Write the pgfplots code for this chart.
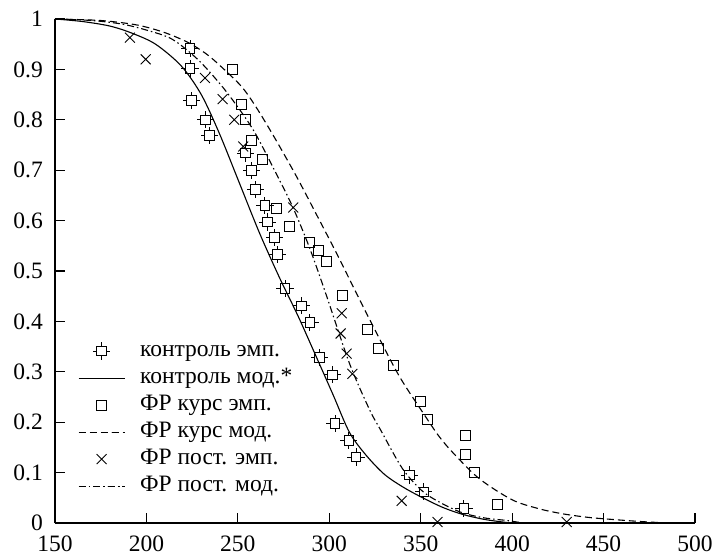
\documentclass[border=0pt]{standalone}
\usepackage{fontspec}
\setmainfont{Liberation Serif}
\usepackage{pgfplots}
\pgfplotsset{compat=1.18}
\pgfdeclareplotmark{sqcross}{%
  \pgfpathrectangle{\pgfqpoint{-\pgfplotmarksize}{-\pgfplotmarksize}}{\pgfqpoint{2\pgfplotmarksize}{2\pgfplotmarksize}}%
  \pgfpathmoveto{\pgfqpoint{0pt}{\pgfplotmarksize}}\pgfpathlineto{\pgfqpoint{0pt}{1.8\pgfplotmarksize}}%
  \pgfpathmoveto{\pgfqpoint{0pt}{-\pgfplotmarksize}}\pgfpathlineto{\pgfqpoint{0pt}{-1.8\pgfplotmarksize}}%
  \pgfpathmoveto{\pgfqpoint{\pgfplotmarksize}{0pt}}\pgfpathlineto{\pgfqpoint{1.8\pgfplotmarksize}{0pt}}%
  \pgfpathmoveto{\pgfqpoint{-\pgfplotmarksize}{0pt}}\pgfpathlineto{\pgfqpoint{-1.8\pgfplotmarksize}{0pt}}%
  \pgfusepathqstroke}
\begin{document}
\begin{tikzpicture}
\begin{axis}[
  name=ax,
  scale only axis, width=640pt, height=504pt,
  xmin=150, xmax=500, ymin=0, ymax=1,
  axis lines=left, axis line style={-, line width=1.6pt},
  xtick={150,200,...,500},
  ytick={0,0.1,0.2,0.3,0.4,0.5,0.6,0.7,0.8,0.9,1},
  yticklabels={0,0.1,0.2,0.3,0.4,0.5,0.6,0.7,0.8,0.9,1},
  tick align=inside, major tick length=10pt,
  tick style={line width=1.2pt, black},
  tick label style={font=\fontsize{23.5}{27}\selectfont, inner sep=0pt},
  yticklabel style={anchor=east, xshift=-12pt},
  xticklabel style={anchor=north, yshift=-13pt},
  /pgf/number format/assume math mode=true,
  legend style={draw=none, fill=none, at={(0.036,0.362)}, anchor=north west,
    inner sep=0pt, outer sep=0pt,
    font=\fontsize{23.5}{27}\selectfont, row sep=6pt, column sep=0pt,
    nodes={inner sep=0pt, text height=16pt, text depth=5pt},
    legend cell align=left},
  legend image code/.code={\draw[mark repeat=2,mark phase=2,#1] plot coordinates {(0pt,0pt) (23pt,0pt) (46pt,0pt)}; \path (61pt,0pt);},
  clip=false,
]
% control emp
\addplot[only marks, mark=sqcross, mark size=4.8pt, line width=0.9pt] coordinates {
(223.8,0.942)(223.8,0.902)(224.7,0.838)(232.4,0.800)(234.4,0.769)(254.3,0.734)
(257.5,0.700)(259.7,0.662)(264.8,0.630)(266.3,0.597)(269.9,0.566)(271.8,0.533)
(275.8,0.465)(284.9,0.431)(289.4,0.398)(294.5,0.329)(301.6,0.294)(303.1,0.198)
(310.7,0.164)(314.6,0.131)(343.7,0.095)(351.7,0.062)(373.6,0.029)};
\addlegendentry{контроль эмп.}
% control model
\addplot[smooth, line width=1.1pt] coordinates {
(150,1.000)(165,0.995)(180,0.986)(192,0.972)(205,0.950)(219,0.907)(230,0.850)
(240,0.772)(251,0.673)(262,0.574)(273,0.485)(283,0.410)(292,0.337)(302,0.255)
(311,0.180)(320,0.135)(330,0.097)(340,0.072)(350,0.052)(362,0.031)(373,0.017)
(385,0.007)(397,0.001)(400,0.0)};
\addlegendentry{контроль мод.*}
% FR kurs emp
\addplot[only marks, mark=square, mark size=5pt, line width=0.9pt] coordinates {
(246.9,0.899)(252.1,0.831)(253.9,0.800)(257.5,0.760)(263.5,0.721)(271.2,0.624)
(278.1,0.589)(289.4,0.556)(294.0,0.541)(298.6,0.518)(307.3,0.452)(320.8,0.384)
(326.8,0.347)(335.0,0.313)(349.6,0.241)(353.8,0.205)(374.2,0.174)(374.7,0.136)
(379.6,0.101)(391.8,0.037)};
\addlegendentry{ФР курс эмп.}
% FR kurs model
\addplot[smooth, line width=1.1pt, dash pattern=on 7pt off 4pt] coordinates {
(150,1.000)(175,0.997)(195,0.988)(210,0.973)(223,0.953)(233,0.930)(241,0.905)
(252,0.866)(260,0.825)(270,0.765)(282,0.688)(293,0.612)(304,0.535)(314,0.462)
(324,0.390)(338,0.293)(351,0.220)(360,0.172)(368,0.138)(382,0.088)(400,0.046)
(415,0.028)(428,0.018)(442,0.011)(455,0.007)(470,0.003)(485,0.000)};
\addlegendentry{ФР курс мод.}
% FR post emp
\addplot[only marks, mark=x, mark size=7pt, line width=0.9pt] coordinates {
(191.0,0.963)(199.6,0.920)(232.0,0.883)(241.7,0.841)(248.0,0.800)(252.9,0.747)
(280.3,0.626)(306.8,0.416)(306.2,0.376)(309.5,0.336)(312.6,0.296)(339.6,0.044)
(359.2,0.002)(429.8,0.002)};
\addlegendentry{ФР пост. эмп.}
% FR post model
\addplot[smooth, line width=1.1pt, dash pattern=on 7pt off 3pt on 1.5pt off 3pt] coordinates {
(150,1.000)(170,0.997)(186.5,0.990)(200,0.978)(214,0.960)(228,0.920)(241,0.868)
(252,0.815)(260,0.770)(271,0.693)(280,0.627)(289,0.548)(298,0.456)(311,0.317)
(322,0.225)(328,0.185)(340,0.108)(351,0.063)(362,0.038)(373,0.020)(385,0.010)
(397,0.005)(406,0.0)};
\addlegendentry{ФР пост. мод.}
\end{axis}
\pgfresetboundingbox
\path[use as bounding box] ([shift={(-55pt,-33pt)}]ax.south west) rectangle ([shift={(21pt,19pt)}]ax.north east);
\end{tikzpicture}
\end{document}
